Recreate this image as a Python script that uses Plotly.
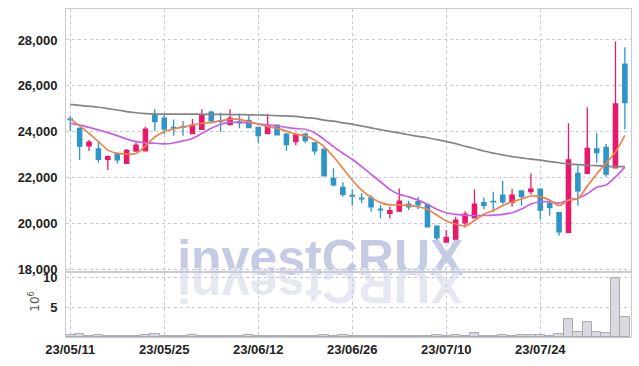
import plotly.graph_objects as go
from plotly.subplots import make_subplots

dates = ["23/05/11", "23/05/12", "23/05/15", "23/05/16", "23/05/17", "23/05/18", "23/05/19", "23/05/22", "23/05/23", "23/05/24",
         "23/05/25", "23/05/26", "23/05/30", "23/05/31", "23/06/01", "23/06/02", "23/06/05", "23/06/07", "23/06/08", "23/06/09",
         "23/06/12", "23/06/13", "23/06/14", "23/06/15", "23/06/16", "23/06/19", "23/06/20", "23/06/21", "23/06/22", "23/06/23",
         "23/06/26", "23/06/27", "23/06/28", "23/06/29", "23/06/30", "23/07/03", "23/07/04", "23/07/05", "23/07/06", "23/07/07",
         "23/07/10", "23/07/11", "23/07/12", "23/07/13", "23/07/14", "23/07/17", "23/07/18", "23/07/19", "23/07/20", "23/07/21",
         "23/07/24", "23/07/25", "23/07/26", "23/07/27", "23/07/28", "23/07/31", "23/08/01", "23/08/02", "23/08/03", "23/08/04"]

opens = [24560, 24150, 23390, 23250, 22800, 23020, 22620, 23160, 23170, 24760,
         24590, 24190, 24220, 23920, 24110, 24850, 24480, 24310, 24430, 24500,
         24190, 23920, 24290, 23900, 23570, 23900, 23520, 23240, 21970, 21580,
         21230, 21110, 21120, 20630, 20440, 20540, 20840, 20950, 20810, 19890,
         19190, 19320, 20030, 20250, 20910, 20970, 21240, 20920, 21420, 21390,
         21500, 20880, 20470, 19620, 22190, 22190, 23250, 23320, 22430, 26950]
highs = [24700, 24190, 23640, 23570, 22960, 23100, 23250, 23540, 24220, 24990,
         24790, 24530, 24470, 24560, 24980, 24920, 24830, 24980, 24800, 24700,
         24210, 24790, 24320, 23950, 23960, 23960, 23550, 23280, 22410, 21800,
         21490, 21320, 21240, 20810, 20730, 21530, 20990, 21170, 20840, 19910,
         19720, 20300, 20540, 21490, 21140, 21390, 21870, 21500, 21440, 22190,
         21520, 20950, 20500, 24370, 22580, 25070, 23930, 23470, 27930, 27680]
lows = [24030, 22770, 23160, 22650, 22330, 22620, 22610, 23150, 23160, 24030,
        23890, 23830, 23830, 23900, 24080, 24370, 24000, 24290, 24150, 24160,
        23520, 23900, 23840, 23170, 23410, 23500, 23000, 22070, 21630, 21170,
        20780, 20880, 20510, 20230, 20230, 20530, 20590, 20620, 19850, 19280,
        19180, 19310, 19830, 20240, 20620, 20510, 20850, 20730, 20780, 21270,
        20200, 20340, 19470, 19600, 20780, 22160, 22650, 22040, 22420, 24110]
closes = [24530, 23380, 23550, 22800, 22910, 22780, 23190, 23420, 24110, 24440,
          24120, 24160, 24190, 24290, 24730, 24480, 24440, 24590, 24390, 24180,
          23830, 24290, 23870, 23440, 23860, 23610, 23170, 22080, 21690, 21270,
          21200, 21080, 20730, 20600, 20560, 20980, 20730, 20810, 19860, 19380,
          19400, 20150, 20410, 20850, 20780, 20940, 20950, 21240, 21170, 21500,
          20590, 20690, 19640, 22770, 21420, 23280, 23090, 22160, 25210, 25270]

ma_short = [24560, 24260, 23930, 23570, 23200, 23060, 23030, 23050, 23380, 23770,
            24000, 24120, 24210, 24290, 24370, 24410, 24480, 24540, 24540, 24430,
            24340, 24220, 24150, 24030, 23890, 23830, 23640, 23350, 22910, 22410,
            21900, 21460, 21140, 20910, 20810, 20810, 20780, 20730, 20620, 20370,
            20110, 19980, 19880, 20130, 20410, 20570, 20780, 20950, 21070, 21200,
            21160, 21020, 20780, 21020, 21090, 21630, 22160, 22640, 23120, 23840]
ma_mid = [24370, 24290, 24190, 24080, 23960, 23830, 23680, 23570, 23520, 23500,
          23470, 23510, 23600, 23710, 23930, 24150, 24330, 24410, 24410, 24390,
          24350, 24290, 24260, 24190, 24140, 24110, 23960, 23670, 23350, 23060,
          22800, 22480, 22150, 21820, 21490, 21270, 21160, 21020, 20840, 20620,
          20470, 20400, 20360, 20350, 20350, 20370, 20400, 20470, 20630, 20850,
          20950, 20950, 20890, 21020, 21100, 21300, 21580, 21680, 22030, 22460]
ma_long = [25190, 25150, 25110, 25070, 25010, 24950, 24880, 24830, 24790, 24770,
           24770, 24770, 24770, 24770, 24760, 24760, 24760, 24750, 24750, 24740,
           24730, 24720, 24700, 24690, 24670, 24620, 24580, 24510, 24460, 24390,
           24330, 24250, 24170, 24090, 24020, 23950, 23870, 23800, 23740, 23660,
           23580, 23480, 23370, 23270, 23160, 23070, 22990, 22920, 22860, 22810,
           22760, 22700, 22650, 22590, 22570, 22540, 22520, 22500, 22480, 22480]

volume_m = [0.3, 0.45, 0.15, 0.35, 0.15, 0.1, 0.12, 0.15, 0.35, 0.5,
            0.2, 0.15, 0.15, 0.35, 0.2, 0.1, 0.1, 0.15, 0.2, 0.35,
            0.15, 0.2, 0.15, 0.1, 0.1, 0.1, 0.15, 0.3, 0.2, 0.4,
            0.2, 0.15, 0.15, 0.1, 0.1, 0.15, 0.1, 0.1, 0.1, 0.35,
            0.2, 0.3, 0.2, 0.6, 0.15, 0.15, 0.3, 0.2, 0.25, 0.3,
            0.3, 0.2, 0.45, 2.95, 0.8, 2.45, 0.8, 0.6, 9.9, 3.3]

price_ticks = [18000, 20000, 22000, 24000, 26000, 28000]
volume_ticks = [5, 10]
date_ticks = dates[0::10]

RED = "#e8196b"
BLUE = "#2f95c8"
GRID = "#c3c9dd"
FRAME = "#c9cbd4"
TICKFONT = dict(family="Liberation Sans, Arial, sans-serif", size=13, color="#222222", weight="bold")

fig = make_subplots(rows=2, cols=1, shared_xaxes=True, vertical_spacing=0,
                    row_heights=[0.802, 0.198])

fig.add_trace(go.Candlestick(
    x=dates, open=opens, high=highs, low=lows, close=closes,
    increasing=dict(line=dict(color=RED, width=1.3), fillcolor=RED),
    decreasing=dict(line=dict(color=BLUE, width=1.3), fillcolor=BLUE),
    whiskerwidth=0, hoverinfo="skip"), row=1, col=1)

fig.add_trace(go.Scatter(x=dates, y=ma_long, mode="lines",
                         line=dict(color="#858585", width=1.7, shape="spline", smoothing=0.6)), row=1, col=1)
fig.add_trace(go.Scatter(x=dates, y=ma_mid, mode="lines",
                         line=dict(color="#c85ee8", width=1.7, shape="spline", smoothing=0.6)), row=1, col=1)
fig.add_trace(go.Scatter(x=dates, y=ma_short, mode="lines",
                         line=dict(color="#ee8347", width=1.7, shape="spline", smoothing=0.6)), row=1, col=1)

fig.add_trace(go.Bar(x=dates, y=volume_m,
                     marker=dict(color="#d9d9df", line=dict(color="#a9a9b3", width=1))), row=2, col=1)

xr = [-0.45, 59.65]
common_x = dict(type="category", range=xr, tickmode="array", tickvals=date_ticks,
                showgrid=True, gridcolor=GRID, griddash="dot", gridwidth=1,
                showline=True, linecolor=FRAME, linewidth=1, mirror=True,
                ticks="", fixedrange=True, automargin=False)
fig.update_xaxes(**common_x)
fig.update_layout(
    xaxis=dict(showticklabels=False, rangeslider=dict(visible=False)),
    xaxis2=dict(showticklabels=True, tickfont=TICKFONT, rangeslider=dict(visible=False)),
    yaxis=dict(domain=[0.198, 1.0], range=[17885, 29351], tickmode="array", tickvals=price_ticks,
               tickformat=",d", tickfont=TICKFONT, showgrid=True, gridcolor=GRID, griddash="dot",
               showline=True, linecolor=FRAME, mirror=True, zeroline=False, ticks="",
               ticklabelstandoff=5, automargin=False),
    yaxis2=dict(domain=[0.0, 0.198], range=[0, 10.85], tickmode="array", tickvals=volume_ticks,
                tickfont=TICKFONT, showgrid=True, gridcolor=GRID, griddash="dot",
                showline=True, linecolor=FRAME, mirror=True, zeroline=False, ticks="",
                ticklabelstandoff=5, automargin=False),
    width=639, height=366,
    margin=dict(l=66, r=8, t=9, b=29, autoexpand=False),
    paper_bgcolor="white", plot_bgcolor="white",
    showlegend=False, bargap=0, boxgap=0.35,
)

# watermark (behind the data)
fig.add_shape(type="rect", xref="paper", yref="paper", x0=0.1, x1=0.8, y0=0.2, y1=0.31,
              line=dict(width=0), fillcolor="rgba(0,0,0,0)", layer="below",
              label=dict(text="<b>investCRUX</b>", textposition="middle center",
                         font=dict(family="Liberation Sans, Arial, sans-serif", size=50, color="#c4cbe3")))
fig.add_shape(type="rect", xref="paper", yref="paper", x0=0.1, x1=0.8, y0=0.09, y1=0.194,
              line=dict(width=0), fillcolor="rgba(0,0,0,0)", layer="below",
              label=dict(text="<b>XURCtsevni</b>", textposition="middle center", textangle=180,
                         font=dict(family="Liberation Sans, Arial, sans-serif", size=50, color="#e5e8f1")))

fig.add_annotation(text="10<sup>6</sup>", xref="paper", yref="paper", x=-0.057, y=0.11,
                   textangle=-90, showarrow=False, xanchor="center", yanchor="middle",
                   font=dict(family="DejaVu Sans, sans-serif", size=12, color="#555555"))

fig.write_html("out.html", post_script="document.body.style.margin='0';",
               config={"displayModeBar": False})
